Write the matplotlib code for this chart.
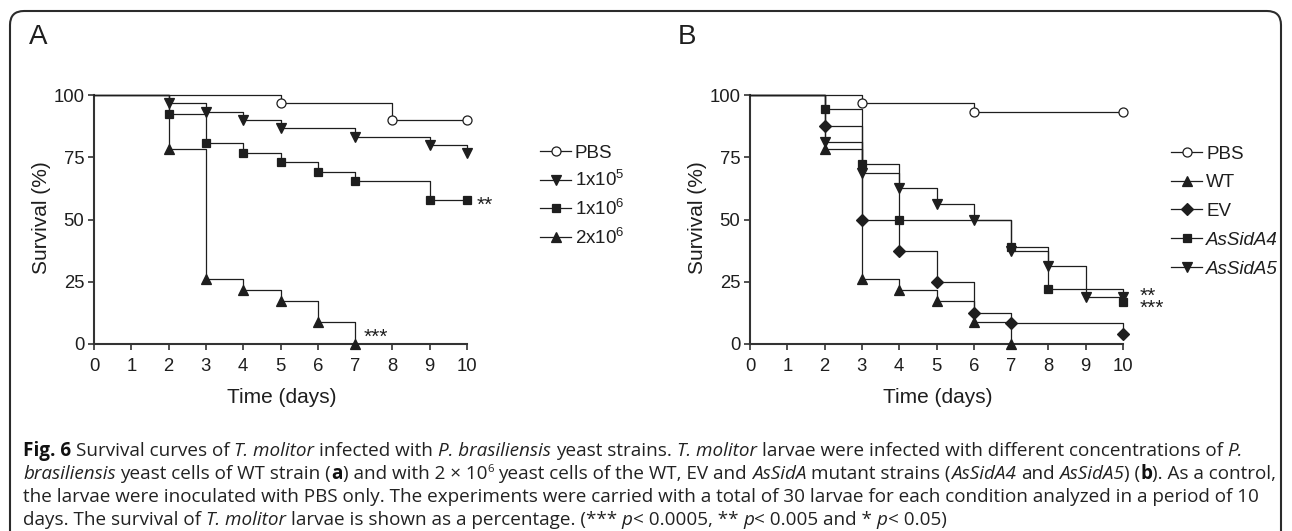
import matplotlib
matplotlib.use("Agg")
import matplotlib.pyplot as plt
from matplotlib.lines import Line2D
from matplotlib.patches import FancyBboxPatch
from matplotlib.transforms import IdentityTransform

plt.rcParams["font.family"] = ["Liberation Sans", "DejaVu Sans"]
plt.rcParams["mathtext.default"] = "regular"

# panel A: survival (%) by day, per inoculum
days_a_pbs = [0, 5, 8, 10]
surv_a_pbs = [100, 96.7, 90.0, 90.0]
days_a_1e5 = [0, 2, 3, 4, 5, 7, 9, 10]
surv_a_1e5 = [100, 96.7, 93.3, 90.0, 86.7, 83.3, 80.0, 76.7]
days_a_1e6 = [0, 2, 3, 4, 5, 6, 7, 9, 10]
surv_a_1e6 = [100, 92.3, 80.8, 76.9, 73.1, 69.2, 65.4, 57.7, 57.7]
days_a_2e6 = [0, 2, 3, 4, 5, 6, 7]
surv_a_2e6 = [100, 78.3, 26.1, 21.7, 17.4, 8.7, 0]

# panel B: survival (%) by day, per strain
days_b_pbs = [0, 3, 6, 10]
surv_b_pbs = [100, 96.7, 93.3, 93.3]
days_b_wt = [0, 2, 3, 4, 5, 6, 7]
surv_b_wt = [100, 78.3, 26.1, 21.7, 17.4, 8.7, 0]
days_b_ev = [0, 2, 3, 4, 5, 6, 7, 10]
surv_b_ev = [100, 87.5, 50.0, 37.5, 25.0, 12.5, 8.3, 4.2]
days_b_a4 = [0, 2, 3, 4, 7, 8, 10]
surv_b_a4 = [100, 94.4, 72.2, 50.0, 38.9, 22.2, 16.7]
days_b_a5 = [0, 2, 3, 4, 5, 6, 7, 8, 9, 10]
surv_b_a5 = [100, 81.3, 68.8, 62.5, 56.3, 50.0, 37.5, 31.3, 18.8, 18.8]

x_ticks = list(range(0, 11))
y_ticks = [0, 25, 50, 75, 100]

caption_lines = [
    [("Fig. 6", "b"), (" Survival curves of ", "n"), ("T. molitor", "i"),
     (" infected with ", "n"), ("P. brasiliensis", "i"), (" yeast strains. ", "n"),
     ("T. molitor", "i"), (" larvae were infected with different concentrations of ", "n"),
     ("P.", "i")],
    [("brasiliensis", "i"), (" yeast cells of WT strain (", "n"), ("a", "b"),
     (") and with 2 \u00d7 10", "n"), ("6", "sup"), (" yeast cells of the WT, EV and ", "n"),
     ("AsSidA", "i"), (" mutant strains (", "n"), ("AsSidA4", "i"), (" and ", "n"),
     ("AsSidA5", "i"), (") (", "n"), ("b", "b"), ("). As a control,", "n")],
    [("the larvae were inoculated with PBS only. The experiments were carried with a total "
      "of 30 larvae for each condition analyzed in a period of 10", "n")],
    [("days. The survival of ", "n"), ("T. molitor", "i"),
     (" larvae is shown as a percentage. (*** ", "n"), ("p", "i"), ("< 0.0005, ** ", "n"),
     ("p", "i"), ("< 0.005 and * ", "n"), ("p", "i"), ("< 0.05)", "n")],
]

INK = "#1e1e1e"
W, H = 1292, 531
fig = plt.figure(figsize=(W / 100, H / 100), dpi=100)
ident = IdentityTransform()


def px_axes(x0, x1, y_top, y_bot):
    return fig.add_axes([x0 / W, (H - y_bot) / H, (x1 - x0) / W, (y_bot - y_top) / H])


def style_axes(ax):
    ax.set_xlim(0, 10)
    ax.set_ylim(0, 100)
    ax.set_xticks(x_ticks)
    ax.set_yticks(y_ticks)
    for side in ("top", "right"):
        ax.spines[side].set_visible(False)
    for side in ("left", "bottom"):
        ax.spines[side].set_linewidth(1.5)
        ax.spines[side].set_color("#333333")
    ax.tick_params(axis="both", direction="out", length=4.5, width=1.2, color="#333333",
                   labelsize=13.3, labelcolor=INK)
    ax.tick_params(axis="x", pad=5.5)
    ax.tick_params(axis="y", pad=2.5)
    ax.set_xlabel("Time (days)", fontsize=15, color=INK)
    ax.set_ylabel("Survival (%)", fontsize=15, color=INK)
    ax.xaxis.set_label_coords(0.504, -0.213)
    ax.xaxis.label.set_va("center")
    ax.yaxis.set_label_coords(-0.142, 0.506)
    ax.yaxis.label.set_va("center")


def km(ax, days, surv, marker, ms=7, face=INK):
    ax.step(days, surv, where="post", color=INK, lw=0.9, clip_on=False, zorder=3)
    ax.plot(days[1:], surv[1:], ls="none", marker=marker, ms=ms, mfc=face, mec=INK,
            mew=0.9, clip_on=False, zorder=4)


def legend_rows(entries, x_left, y_first, step=28.7, size=13.5):
    # GraphPad-style key: short line with the marker in its middle, label to the right
    for i, (label, marker, ms, face, style) in enumerate(entries):
        y = H - (y_first + i * step)
        fig.add_artist(Line2D([x_left, x_left + 31], [y, y], transform=ident,
                              color=INK, lw=0.9))
        fig.add_artist(Line2D([x_left + 15.5], [y], transform=ident, ls="none",
                              marker=marker, ms=ms, mfc=face, mec=INK, mew=0.9))
        fig.text(x_left + 35, y - 6.7, label, transform=ident, fontsize=size,
                 fontstyle=style, color=INK, ha="left", va="baseline")


ax_a = px_axes(94, 467, 95, 344)
style_axes(ax_a)
km(ax_a, days_a_pbs, surv_a_pbs, "o", ms=6.5, face="white")
km(ax_a, days_a_1e5, surv_a_1e5, "v")
km(ax_a, days_a_1e6, surv_a_1e6, "s", ms=6.3)
km(ax_a, days_a_2e6, surv_a_2e6, "^")
legend_rows([("PBS", "o", 6.5, "white", "normal"),
             ("1x10$^{5}$", "v", 7, INK, "normal"),
             ("1x10$^{6}$", "s", 6.3, INK, "normal"),
             ("2x10$^{6}$", "^", 7, INK, "normal")], 540, 151)
ax_a.text(10.25, 53.5, "**", fontsize=15, color=INK, ha="left", va="baseline")
ax_a.text(7.22, 0.6, "***", fontsize=15, color=INK, ha="left", va="baseline", clip_on=False)

ax_b = px_axes(750, 1123, 95, 344)
style_axes(ax_b)
km(ax_b, days_b_pbs, surv_b_pbs, "o", ms=6.5, face="white")
km(ax_b, days_b_wt, surv_b_wt, "^")
km(ax_b, days_b_ev, surv_b_ev, "D", ms=6)
km(ax_b, days_b_a4, surv_b_a4, "s", ms=6.3)
km(ax_b, days_b_a5, surv_b_a5, "v")
legend_rows([("PBS", "o", 6.5, "white", "normal"),
             ("WT", "^", 7, INK, "normal"),
             ("EV", "D", 6, INK, "normal"),
             ("AsSidA4", "s", 6.3, INK, "italic"),
             ("AsSidA5", "v", 7, INK, "italic")], 1171, 152)
ax_b.text(10.44, 12.1, "**\n***", fontsize=15, color=INK, ha="left", va="baseline",
          linespacing=0.55, clip_on=False)

# panel letters
fig.text(38, H - 37, "A", transform=ident, fontsize=20, color=INK, ha="center", va="center")
fig.text(687, H - 37, "B", transform=ident, fontsize=20, color=INK, ha="center", va="center")

# rounded frame
frame = FancyBboxPatch((10, -30), W - 21, H - 11 + 30, boxstyle="round,pad=0,rounding_size=14",
                       transform=ident, fill=False, lw=1.5, ec="#2b2b2b")
fig.add_artist(frame)

# caption, drawn run by run so the styles can mix
renderer = fig.canvas.get_renderer()
CAP_SIZE = 13.6


def run_props(sty):
    kw = dict(family="Open Sans", fontsize=CAP_SIZE, color="#222222")
    if sty == "b":
        kw["fontweight"] = "bold"
        kw["color"] = "#111111"
    elif sty == "i":
        kw["fontstyle"] = "italic"
    elif sty == "sup":
        kw["fontsize"] = CAP_SIZE * 0.6
    return kw


def text_width(s, kw):
    t = fig.text(0, 0, s, transform=ident, **kw)
    w = t.get_window_extent(renderer).width
    t.remove()
    return w


space_w = text_width("a a", run_props("n")) - text_width("aa", run_props("n"))
baselines = [456, 479, 502, 525]
for line, base in zip(caption_lines, baselines):
    x = 23
    for txt, sty in line:
        kw = run_props(sty)
        lead = len(txt) - len(txt.lstrip(" "))
        trail = len(txt) - len(txt.rstrip(" "))
        core = txt.strip(" ")
        x += lead * space_w
        y = H - base + (7 if sty == "sup" else 0)
        t = fig.text(x, y, core, transform=ident, va="baseline", ha="left", **kw)
        x += t.get_window_extent(renderer).width + trail * space_w

fig.savefig("out.png", dpi=100)
